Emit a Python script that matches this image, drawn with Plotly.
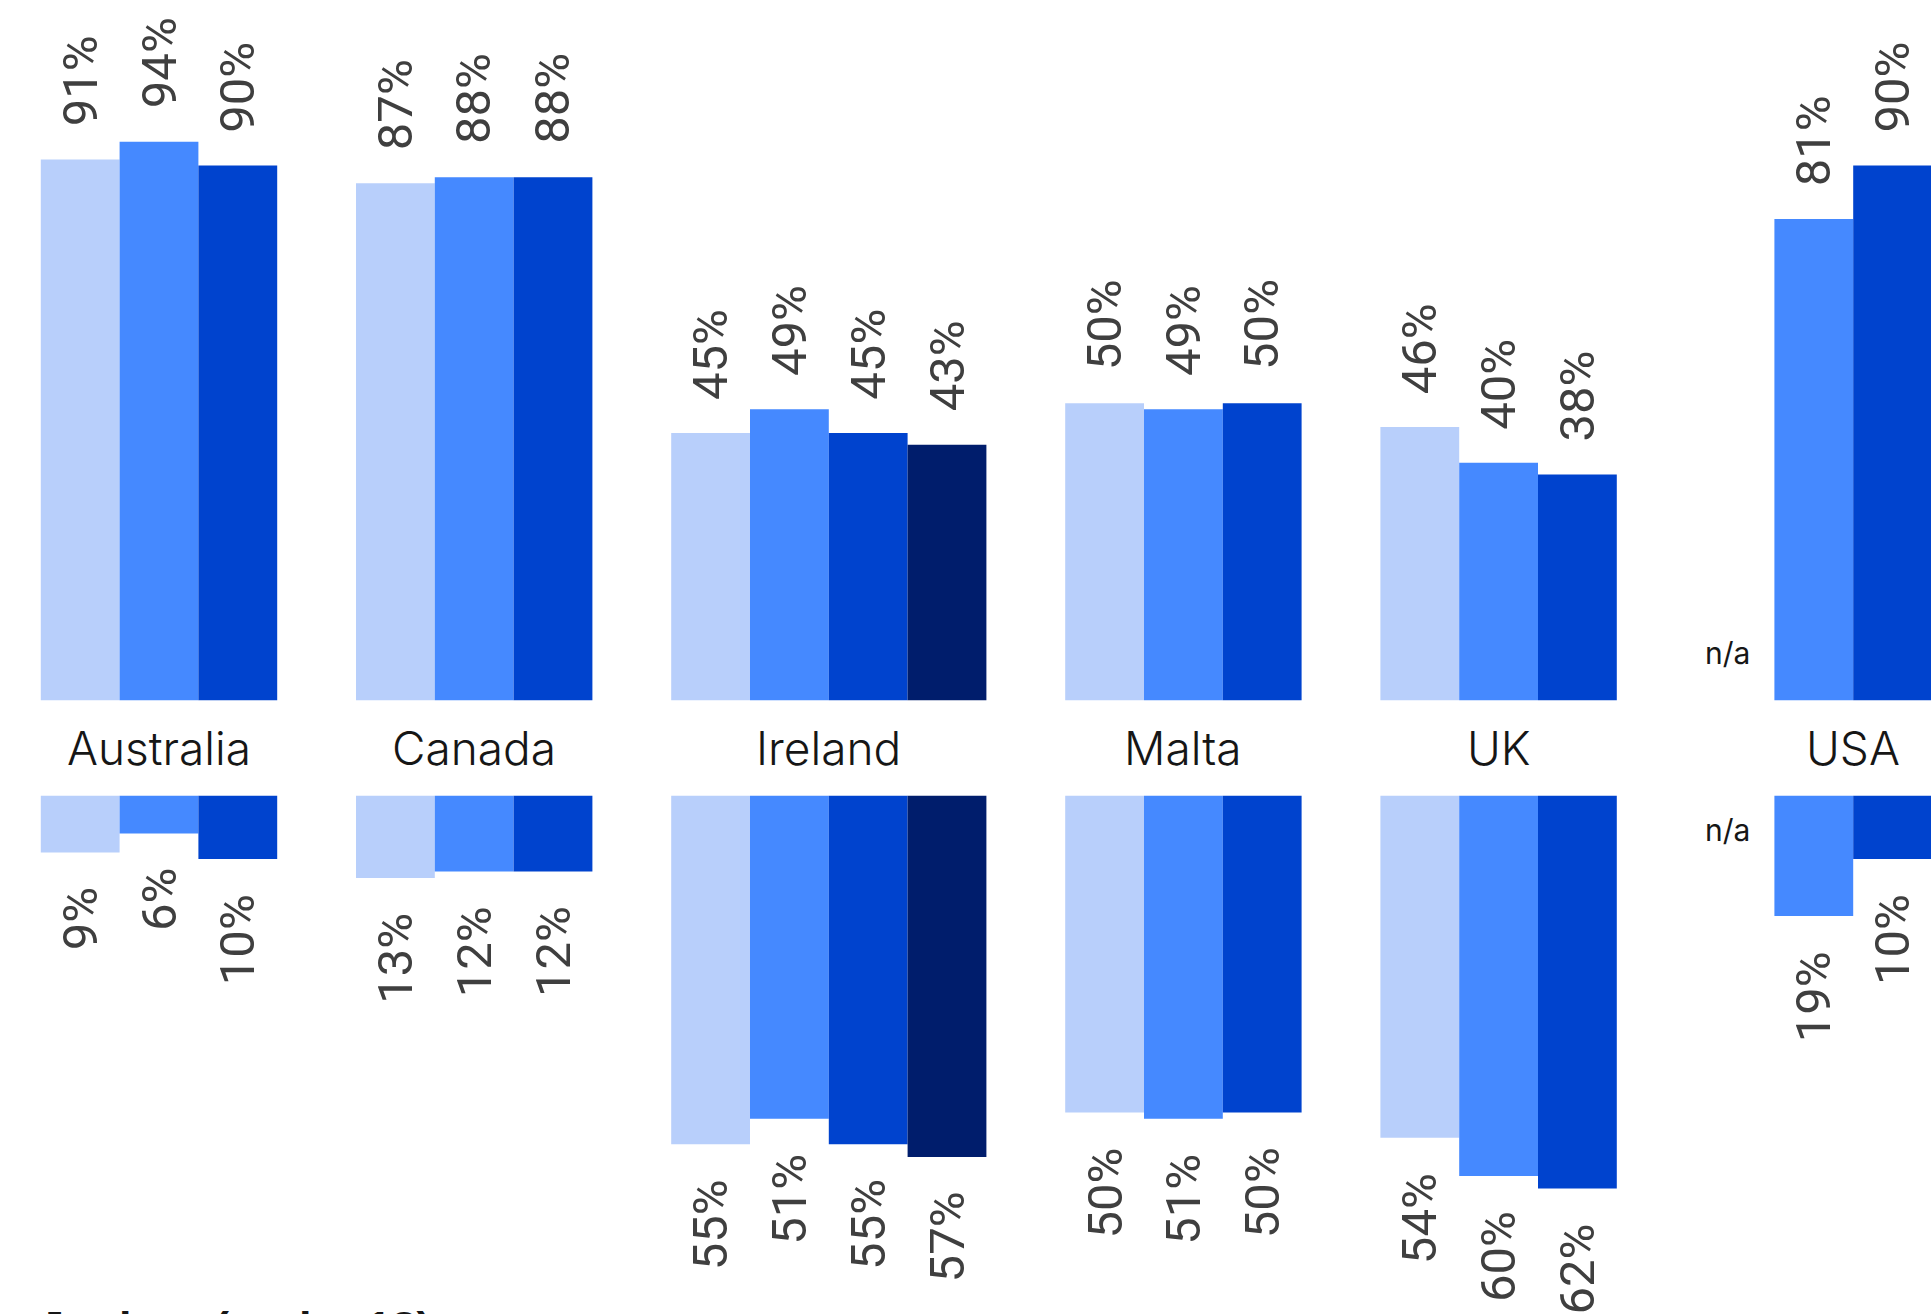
import plotly.graph_objects as go

# Share of students by age band and survey period, per destination country.
countries = ["Australia", "Canada", "Ireland", "Malta", "UK", "USA"]
period_names = ["Period 1", "Period 2", "Period 3", "Period 4"]
period_colors = ["#b8cffb", "#4589ff", "#0043ce", "#001d6c"]

# "n/a" = period surveyed but no figure; None = period not reported.
adults_p1 = [91, 87, 45, 50, 46, "n/a"]
adults_p2 = [94, 88, 49, 49, 40, 81]
adults_p3 = [90, 88, 45, 50, 38, 90]
adults_p4 = [None, None, 43, None, None, None]

juniors_p1 = [9, 13, 55, 50, 54, "n/a"]
juniors_p2 = [6, 12, 51, 51, 60, 19]
juniors_p3 = [10, 12, 55, 50, 62, 10]
juniors_p4 = [None, None, 57, None, None, None]

adults = [adults_p1, adults_p2, adults_p3, adults_p4]
juniors = [juniors_p1, juniors_p2, juniors_p3, juniors_p4]

# Lay bars out on a slot axis: one slot per reported period, one empty slot between countries.
slots = [[None] * len(countries) for _ in period_names]
group_centres = []
cursor = 0
for ci, _ in enumerate(countries):
    filled = []
    for si in range(len(period_names)):
        if adults[si][ci] is not None:
            slots[si][ci] = cursor
            if adults[si][ci] != "n/a":
                filled.append(cursor)
            cursor += 1
    group_centres.append(sum(filled) / len(filled))
    cursor += 1

W, H = 1931, 1314
SLOT_PX = 78.8
LEFT_PX = 40.8
x_range = [-0.5 - LEFT_PX / SLOT_PX, (W - LEFT_PX) / SLOT_PX - 0.5]

top_base_px = 700.5
top_scale = 5.945       # px per percentage point
bot_base_px = 795.5
bot_scale = 6.34

fig = go.Figure()
annotations = []
value_font = dict(family="Roboto, sans-serif", size=49, color="#3f3f3f")
na_font = dict(family="Inter, Roboto, sans-serif", size=30, color="#161616")

for si, name in enumerate(period_names):
    for panel, data, xa, ya in (("top", adults, "x", "y"), ("bottom", juniors, "x2", "y2")):
        xs, ys = [], []
        for ci in range(len(countries)):
            v = data[si][ci]
            if v is None:
                continue
            if v == "n/a":
                annotations.append(dict(
                    x=slots[si][ci], y=0, xref=xa, yref=ya, text="n/a",
                    showarrow=False, font=na_font, xanchor="center", yanchor="middle",
                    xshift=-8, yshift=48 if panel == "top" else -35,
                ))
                continue
            xs.append(slots[si][ci])
            ys.append(v)
            annotations.append(dict(
                x=slots[si][ci], y=v, xref=xa, yref=ya, text=f"{v}%",
                showarrow=False, textangle=-90, font=value_font,
                xanchor="center",
                yanchor="bottom" if panel == "top" else "top",
                yshift=31 if panel == "top" else -33,
            ))
        fig.add_trace(go.Bar(
            x=xs, y=ys, width=1, name=name, xaxis=xa, yaxis=ya,
            marker=dict(color=period_colors[si], line=dict(width=0)),
            showlegend=False, hoverinfo="skip",
        ))

label_y = 1 - ((top_base_px + bot_base_px) / 2) / H
for ci, country in enumerate(countries):
    annotations.append(dict(
        x=group_centres[ci], y=label_y, xref="x", yref="paper", text=country,
        showarrow=False, xanchor="center", yanchor="middle",
        font=dict(family="Inter, Roboto, sans-serif", size=46,
                  color="#161616", weight=300),
    ))

# Heading of the following section, cut by the lower page edge.
annotations.append(dict(
    x=37 / W, y=1 - 1300 / H, xref="paper", yref="paper", text="<b>Juniors (under 18)</b>",
    showarrow=False, xanchor="left", yanchor="top",
    font=dict(family="Liberation Sans, Arial, sans-serif", size=45, color="#161616"),
))

hidden = dict(visible=False, showgrid=False, zeroline=False, fixedrange=True)
fig.update_layout(
    width=W, height=H,
    margin=dict(l=0, r=0, t=0, b=0),
    paper_bgcolor="white", plot_bgcolor="white",
    barmode="overlay",
    xaxis=dict(range=x_range, anchor="y", **hidden),
    xaxis2=dict(range=x_range, anchor="y2", matches="x", **hidden),
    yaxis=dict(domain=[1 - top_base_px / H, 1], range=[0, top_base_px / top_scale], **hidden),
    yaxis2=dict(domain=[0, 1 - bot_base_px / H], range=[(H - bot_base_px) / bot_scale, 0], **hidden),
    annotations=annotations,
)

fig.write_html("out.html", config={"displayModeBar": False})
